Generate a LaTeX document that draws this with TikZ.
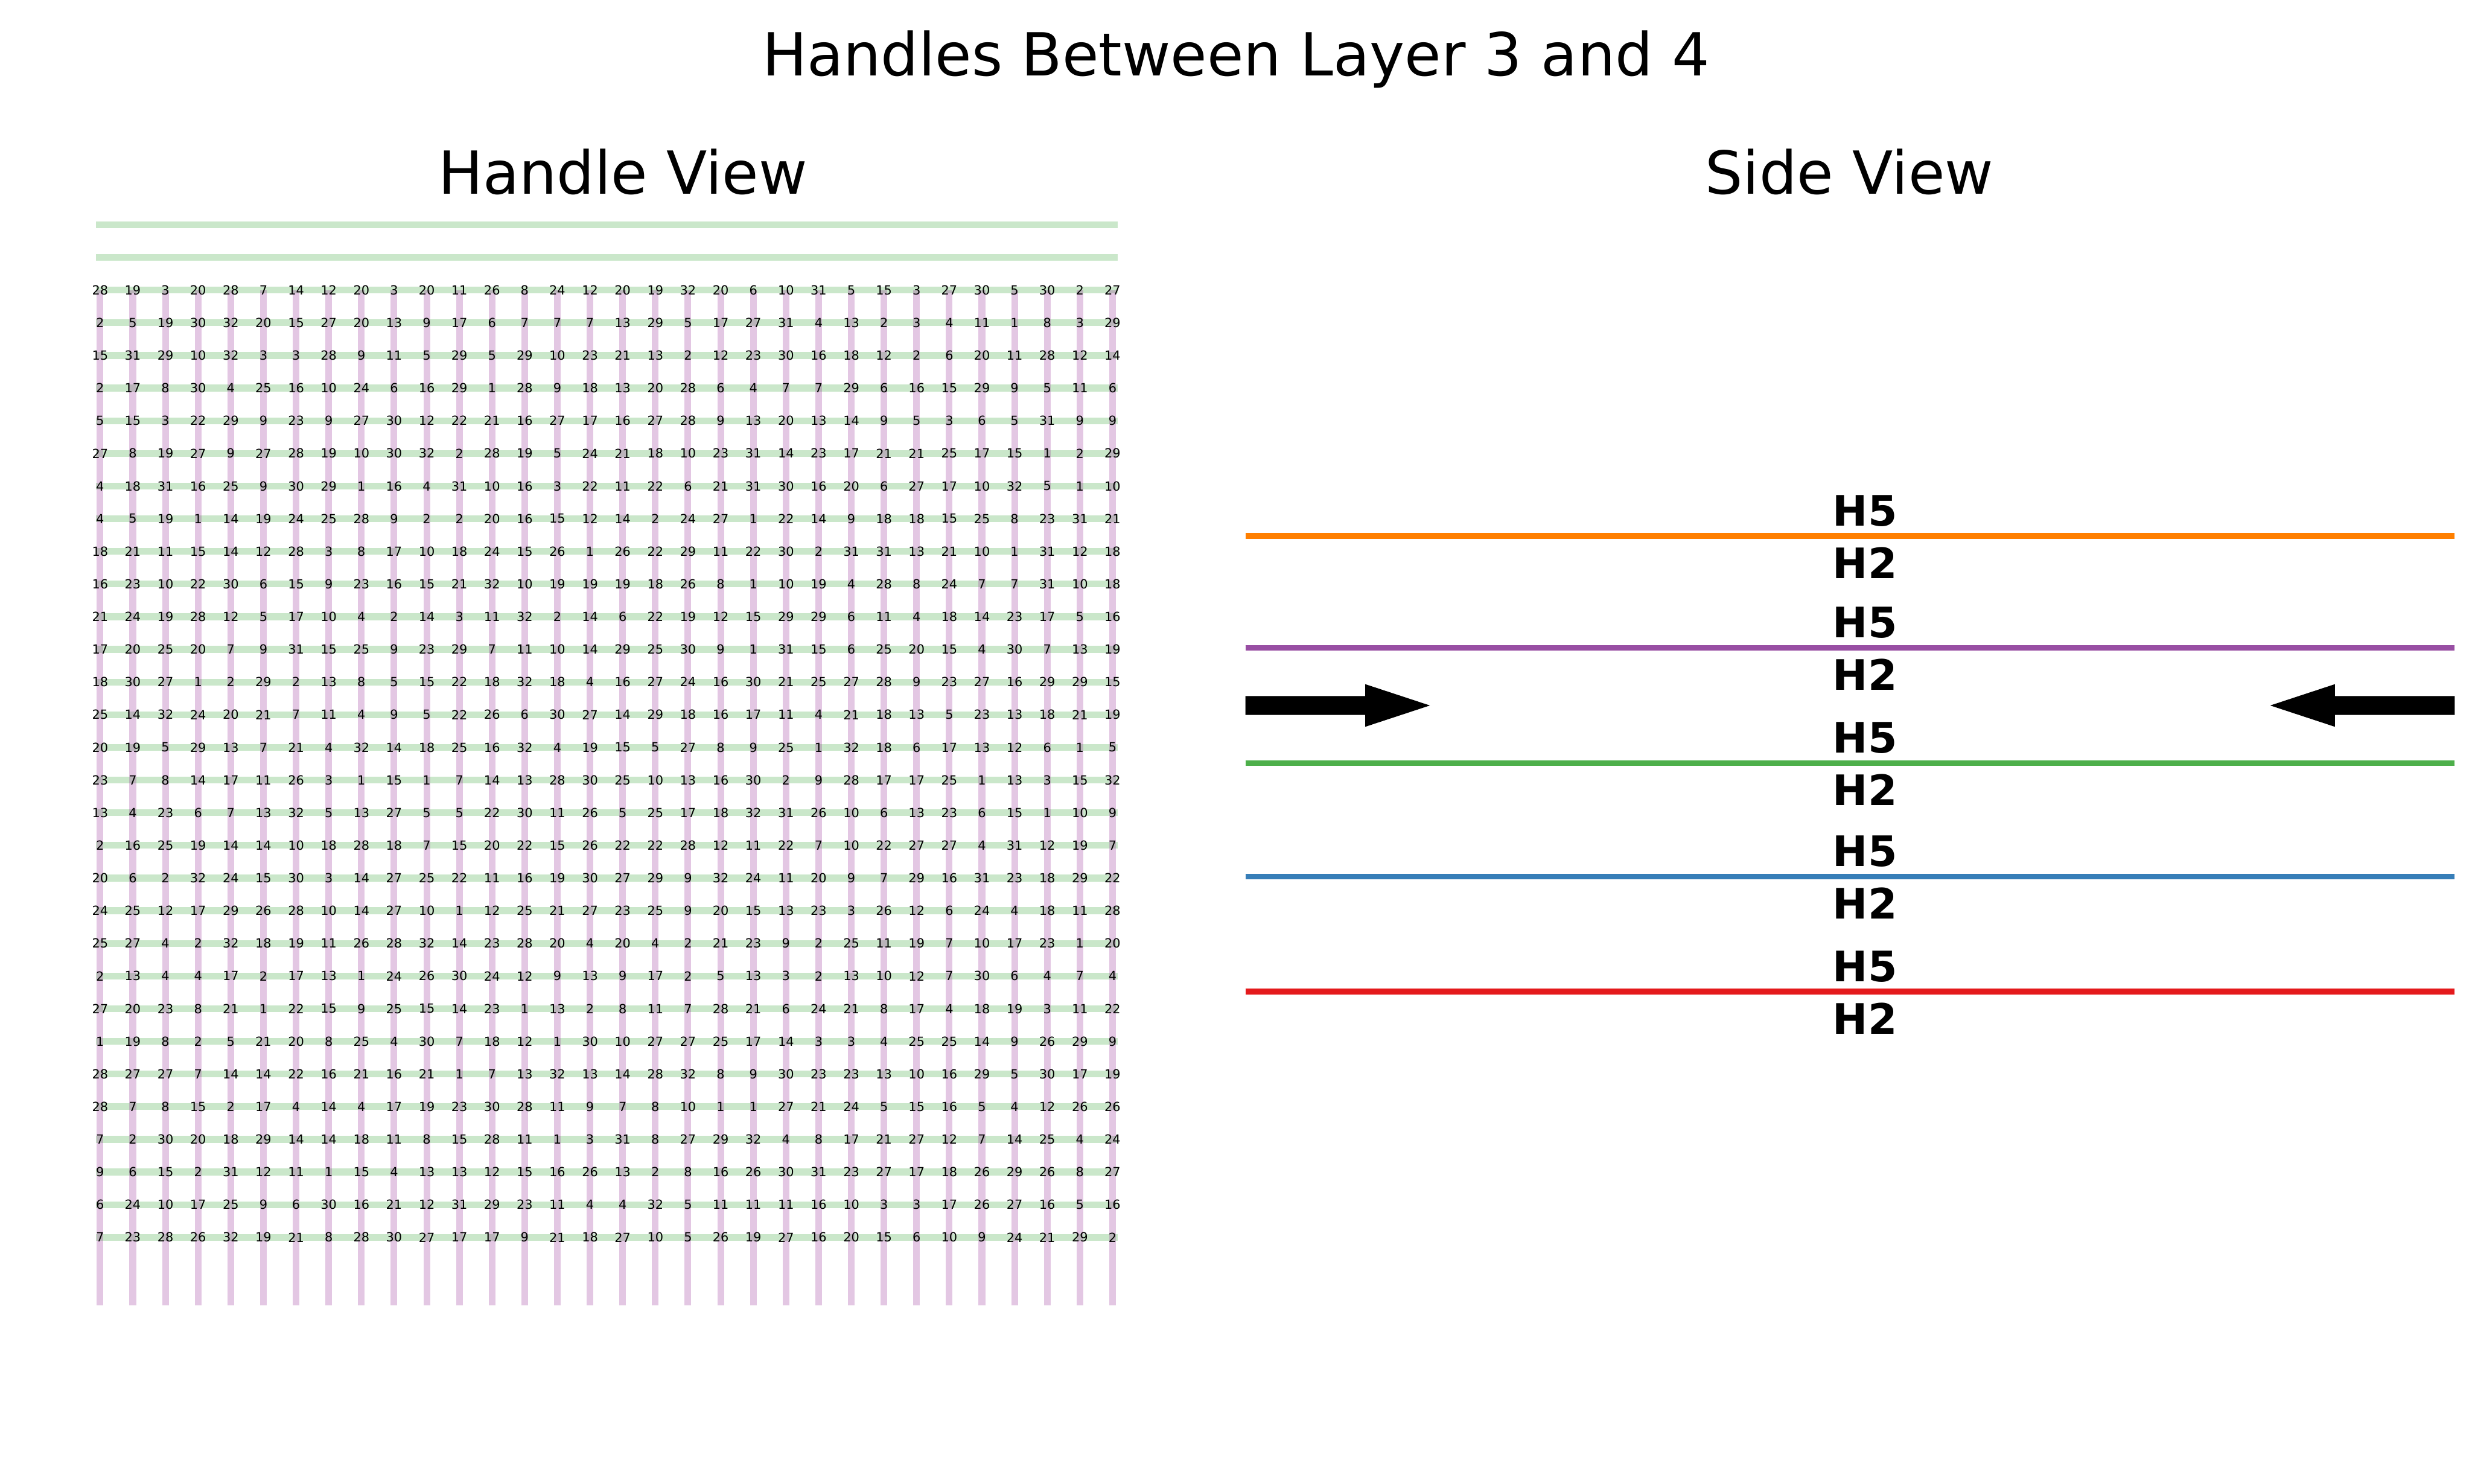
\documentclass[tikz,border=0pt]{standalone}
\usepackage{fontspec}
\setmainfont{DejaVu Sans}
\definecolor{hgreen}{RGB}{44,160,44}
\definecolor{hpurple}{RGB}{128,0,128}
\definecolor{sorange}{RGB}{255,127,0}
\definecolor{spurple}{RGB}{152,78,163}
\definecolor{sgreen}{RGB}{77,175,74}
\definecolor{sblue}{RGB}{55,126,184}
\definecolor{sred}{RGB}{228,26,28}
\tikzset{
  titletext/.style={font=\fontsize{41}{49}\selectfont, inner sep=0pt, anchor=base},
  numtext/.style={font=\fontsize{8.7}{10}\selectfont, inner sep=0pt, anchor=center},
  hlabel/.style={font=\fontsize{29}{34}\selectfont\bfseries, inner sep=0pt, anchor=center},
  greenline/.style={draw=hgreen, draw opacity=0.25, line width=4.7pt},
  purpleline/.style={draw=hpurple, draw opacity=0.22, line width=4.6pt},
  sideline/.style={line width=3.9pt},
  bigarrow/.style={fill=black, draw=none}
}
\begin{document}
\begin{tikzpicture}[x=0.38265mm, y=-0.38265mm]
\useasboundingbox (0,0) rectangle (1568,941);
% titles
\node[titletext] (title) at (784,48) {Handles Between Layer 3 and 4};
\node[titletext] (hv) at (395,123) {Handle View};
\node[titletext] (sv) at (1173,123) {Side View};
% green horizontal lines (32)
\foreach \k in {0,...,31} {
  \draw[greenline] (61,{142.56+20.72*\k}) -- (709,{142.56+20.72*\k});
}
% purple vertical lines (32)
\foreach \j in {0,...,31} {
  \draw[purpleline] ({63.5+20.716*\j},184) -- ({63.5+20.716*\j},828);
}
% numbers
\foreach \rowvals [count=\r from 0] in {{28,19,3,20,28,7,14,12,20,3,20,11,26,8,24,12,20,19,32,20,6,10,31,5,15,3,27,30,5,30,2,27},
{2,5,19,30,32,20,15,27,20,13,9,17,6,7,7,7,13,29,5,17,27,31,4,13,2,3,4,11,1,8,3,29},
{15,31,29,10,32,3,3,28,9,11,5,29,5,29,10,23,21,13,2,12,23,30,16,18,12,2,6,20,11,28,12,14},
{2,17,8,30,4,25,16,10,24,6,16,29,1,28,9,18,13,20,28,6,4,7,7,29,6,16,15,29,9,5,11,6},
{5,15,3,22,29,9,23,9,27,30,12,22,21,16,27,17,16,27,28,9,13,20,13,14,9,5,3,6,5,31,9,9},
{27,8,19,27,9,27,28,19,10,30,32,2,28,19,5,24,21,18,10,23,31,14,23,17,21,21,25,17,15,1,2,29},
{4,18,31,16,25,9,30,29,1,16,4,31,10,16,3,22,11,22,6,21,31,30,16,20,6,27,17,10,32,5,1,10},
{4,5,19,1,14,19,24,25,28,9,2,2,20,16,15,12,14,2,24,27,1,22,14,9,18,18,15,25,8,23,31,21},
{18,21,11,15,14,12,28,3,8,17,10,18,24,15,26,1,26,22,29,11,22,30,2,31,31,13,21,10,1,31,12,18},
{16,23,10,22,30,6,15,9,23,16,15,21,32,10,19,19,19,18,26,8,1,10,19,4,28,8,24,7,7,31,10,18},
{21,24,19,28,12,5,17,10,4,2,14,3,11,32,2,14,6,22,19,12,15,29,29,6,11,4,18,14,23,17,5,16},
{17,20,25,20,7,9,31,15,25,9,23,29,7,11,10,14,29,25,30,9,1,31,15,6,25,20,15,4,30,7,13,19},
{18,30,27,1,2,29,2,13,8,5,15,22,18,32,18,4,16,27,24,16,30,21,25,27,28,9,23,27,16,29,29,15},
{25,14,32,24,20,21,7,11,4,9,5,22,26,6,30,27,14,29,18,16,17,11,4,21,18,13,5,23,13,18,21,19},
{20,19,5,29,13,7,21,4,32,14,18,25,16,32,4,19,15,5,27,8,9,25,1,32,18,6,17,13,12,6,1,5},
{23,7,8,14,17,11,26,3,1,15,1,7,14,13,28,30,25,10,13,16,30,2,9,28,17,17,25,1,13,3,15,32},
{13,4,23,6,7,13,32,5,13,27,5,5,22,30,11,26,5,25,17,18,32,31,26,10,6,13,23,6,15,1,10,9},
{2,16,25,19,14,14,10,18,28,18,7,15,20,22,15,26,22,22,28,12,11,22,7,10,22,27,27,4,31,12,19,7},
{20,6,2,32,24,15,30,3,14,27,25,22,11,16,19,30,27,29,9,32,24,11,20,9,7,29,16,31,23,18,29,22},
{24,25,12,17,29,26,28,10,14,27,10,1,12,25,21,27,23,25,9,20,15,13,23,3,26,12,6,24,4,18,11,28},
{25,27,4,2,32,18,19,11,26,28,32,14,23,28,20,4,20,4,2,21,23,9,2,25,11,19,7,10,17,23,1,20},
{2,13,4,4,17,2,17,13,1,24,26,30,24,12,9,13,9,17,2,5,13,3,2,13,10,12,7,30,6,4,7,4},
{27,20,23,8,21,1,22,15,9,25,15,14,23,1,13,2,8,11,7,28,21,6,24,21,8,17,4,18,19,3,11,22},
{1,19,8,2,5,21,20,8,25,4,30,7,18,12,1,30,10,27,27,25,17,14,3,3,4,25,25,14,9,26,29,9},
{28,27,27,7,14,14,22,16,21,16,21,1,7,13,32,13,14,28,32,8,9,30,23,23,13,10,16,29,5,30,17,19},
{28,7,8,15,2,17,4,14,4,17,19,23,30,28,11,9,7,8,10,1,1,27,21,24,5,15,16,5,4,12,26,26},
{7,2,30,20,18,29,14,14,18,11,8,15,28,11,1,3,31,8,27,29,32,4,8,17,21,27,12,7,14,25,4,24},
{9,6,15,2,31,12,11,1,15,4,13,13,12,15,16,26,13,2,8,16,26,30,31,23,27,17,18,26,29,26,8,27},
{6,24,10,17,25,9,6,30,16,21,12,31,29,23,11,4,4,32,5,11,11,11,16,10,3,3,17,26,27,16,5,16},
{7,23,28,26,32,19,21,8,28,30,27,17,17,9,21,18,27,10,5,26,19,27,16,20,15,6,10,9,24,21,29,2}} {
  \foreach \v [count=\c from 0] in \rowvals {
    \node[numtext] (n-\r-\c) at ({63.5+20.716*\c},{184+20.72*\r}) {\v};
  }
}
% side view lines
\coordinate (oL) at (790,340);  \coordinate (oR) at (1557,340);
\coordinate (pL) at (790,411);  \coordinate (pR) at (1557,411);
\coordinate (gL) at (790,484);  \coordinate (gR) at (1557,484);
\coordinate (bL) at (790,556);  \coordinate (bR) at (1557,556);
\coordinate (rL) at (790,629);  \coordinate (rR) at (1557,629);
\draw[sideline, sorange] (oL) -- (oR);
\draw[sideline, spurple] (pL) -- (pR);
\draw[sideline, sgreen] (gL) -- (gR);
\draw[sideline, sblue] (bL) -- (bR);
\draw[sideline, sred] (rL) -- (rR);
% labels
\foreach \yy [count=\i] in {340,411,484,556,629} {
  \node[hlabel] (h5-\i) at (1183,\yy-16) {H5};
  \node[hlabel] (h2-\i) at (1183,\yy+17) {H2};
}
% arrows
\fill[bigarrow] (790,441.5) -- (866,441.5) -- (866,434) -- (907,447.5) -- (866,461) -- (866,453.5) -- (790,453.5) -- cycle;
\fill[bigarrow] (1557,441.5) -- (1481,441.5) -- (1481,434) -- (1440,447.5) -- (1481,461) -- (1481,453.5) -- (1557,453.5) -- cycle;
\end{tikzpicture}
\end{document}
